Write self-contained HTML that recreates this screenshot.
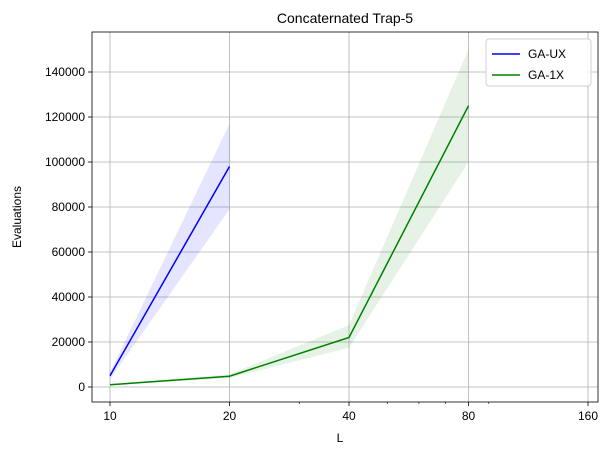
<!DOCTYPE html>
<html><head><meta charset="utf-8"><style>body{margin:0;background:#fff}svg{display:block;font-family:"Liberation Sans","DejaVu Sans",sans-serif}</style></head>
<body>
<svg id="c" width="611" height="455"></svg>
<script>
const xs=[10,20,40,80];
const uxL=[10,20];
const uxMean=[5000,98000];
const uxLo=[3500,79000];
const uxHi=[6500,117000];
const oxL=[10,20,40,80];
const oxMean=[1000,4800,22000,125000];
const oxLo=[700,4000,17500,100000];
const oxHi=[1300,5600,27500,150000];
const xTicks=[10,20,40,80,160];
const xMinor=[30,50,60,70,90];
const yTicks=[0,20000,40000,60000,80000,100000,120000,140000];
const L=92,R=598,T=32,B=402;
const X=v=>110+Math.log2(v/10)*119.5;
const Y=v=>387-v*45/20000;
const s=document.getElementById('c');const ns='http://www.w3.org/2000/svg';
function el(t,a,p){const e=document.createElementNS(ns,t);for(const k in a)e.setAttribute(k,a[k]);(p||s).appendChild(e);return e;}
el('rect',{x:0,y:0,width:611,height:455,fill:'#fff'});
xTicks.forEach(v=>{const g=el('line',{x1:X(v),x2:X(v),y1:T,y2:B,stroke:'#b0b0b0','stroke-width':0.8});

el('line',{x1:X(v),x2:X(v),y1:B,y2:B+4,stroke:'#000','stroke-width':0.8});
const t=el('text',{x:X(v),y:B+18,'font-size':12,'text-anchor':'middle'});t.textContent=v;
});
xMinor.forEach(v=>{el('line',{x1:X(v),x2:X(v),y1:B,y2:B+2,stroke:'#000','stroke-width':0.6});});
yTicks.forEach(v=>{const g=el('line',{x1:L,x2:R,y1:Y(v),y2:Y(v),stroke:'#b0b0b0','stroke-width':0.8});

el('line',{x1:L-4,x2:L,y1:Y(v),y2:Y(v),stroke:'#000','stroke-width':0.8});
const t=el('text',{x:L-7,y:Y(v)+4,'font-size':12,'text-anchor':'end'});t.textContent=v;
});
function band(xv,lo,hi,c,name){const pts=xv.map((x,i)=>X(x)+','+Y(hi[i])).concat(xv.map((x,i)=>X(x)+','+Y(lo[i])).reverse());
const p=el('polygon',{points:pts.join(' '),fill:c,opacity:0.1});}
function line(xv,m,c,name){const p=el('polyline',{points:xv.map((x,i)=>X(x)+','+Y(m[i])).join(' '),fill:'none',stroke:c,'stroke-width':1.5});
}
band(uxL,uxLo,uxHi,'blue','ga-ux-band');band(oxL,oxLo,oxHi,'green','ga-1x-band');
line(uxL,uxMean,'blue','ga-ux-line');line(oxL,oxMean,'green','ga-1x-line');
el('rect',{x:L,y:T,width:R-L,height:B-T,fill:'none',stroke:'#000','stroke-width':0.8});
let t=el('text',{x:345,y:23,'font-size':14,'text-anchor':'middle'});t.textContent='Concaternated Trap-5';

t=el('text',{x:340,y:442,'font-size':12,'text-anchor':'middle'});t.textContent='L';

t=el('text',{x:21,y:217,'font-size':12,'text-anchor':'middle',transform:'rotate(-90 21 217)'});t.textContent='Evaluations';

const lg=el('g',{});
el('rect',{x:486,y:39,width:105,height:47,rx:3,fill:'#fff',stroke:'#ccc',opacity:0.9},lg);
[['GA-UX','blue',54],['GA-1X','green',75]].forEach(([n,c,y])=>{
el('line',{x1:492,x2:520,y1:y,y2:y,stroke:c,'stroke-width':1.5},lg);
const tt=el('text',{x:528,y:y+4,'font-size':12},lg);tt.textContent=n;
});
</script>
</body></html>
